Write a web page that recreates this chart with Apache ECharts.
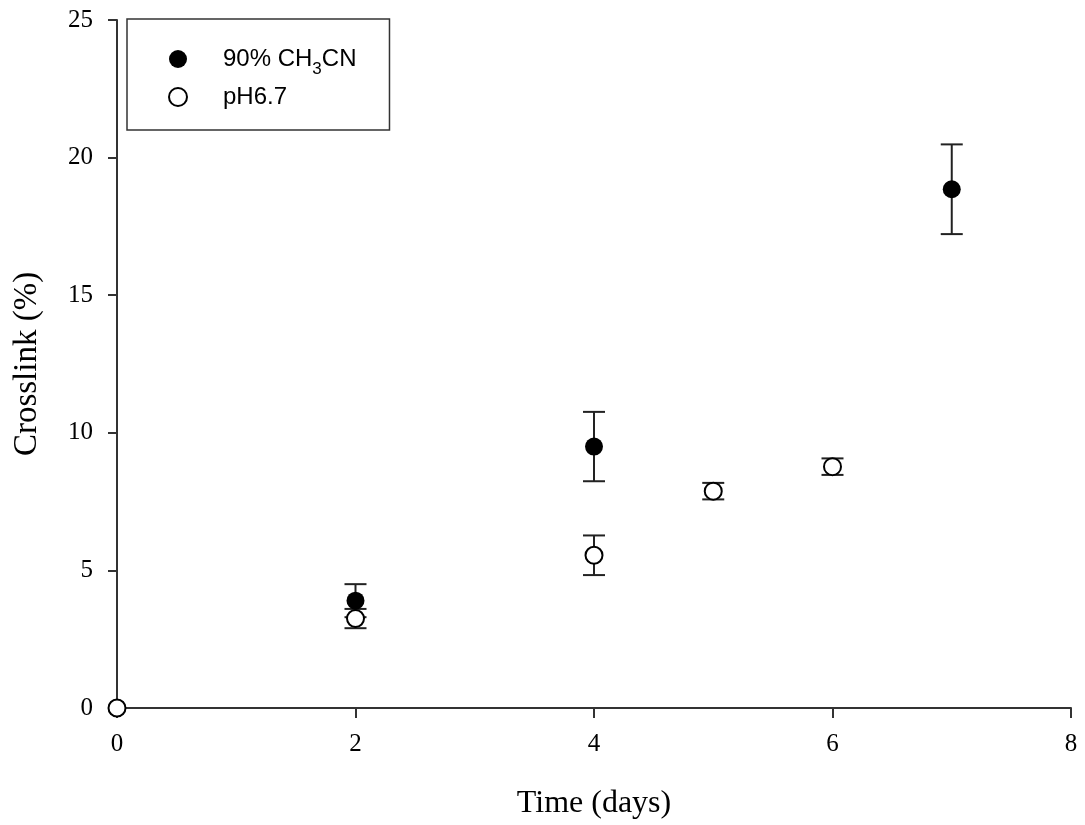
<!DOCTYPE html>
<html>
<head>
<meta charset="utf-8">
<script src="https://cdn.jsdelivr.net/npm/echarts@6/dist/echarts.min.js"></script>
<style>
html, body { margin: 0; padding: 0; background: #fff; }
#container { width: 1085px; height: 825px; }
</style>
</head>
<body>
<div id="container"></div>
<script>
var daysCh3cn = [0, 2, 4, 7];
var crosslinkCh3cn = [0, 3.9, 9.5, 18.85];
var errCh3cn = [0, 0.6, 1.26, 1.63];

var daysPh = [0, 2, 4, 5, 6];
var crosslinkPh = [0, 3.25, 5.55, 7.88, 8.77];
var errPh = [0, 0.35, 0.72, 0.3, 0.3];

var dom = document.getElementById("container");
var myChart = echarts.init(dom);

function pointData(xs, ys) {
    return xs.map(function (x, i) {
        return [x, ys[i]];
    });
}

function errData(xs, ys, es) {
    return xs.map(function (x, i) {
        return [x, ys[i] - es[i], ys[i] + es[i]];
    });
}

// vertical bar with caps, drawn under the markers
function renderErr(params, api) {
    var x = api.value(0);
    var lo = api.coord([x, api.value(1)]);
    var hi = api.coord([x, api.value(2)]);
    if (hi[1] === lo[1]) {
        return null;
    }
    var half = 11;
    var style = { stroke: '#222222', lineWidth: 2 };
    return {
        type: 'group',
        children: [
            { type: 'line', shape: { x1: lo[0], y1: lo[1], x2: hi[0], y2: hi[1] }, style: style },
            { type: 'line', shape: { x1: lo[0] - half, y1: lo[1], x2: lo[0] + half, y2: lo[1] }, style: style },
            { type: 'line', shape: { x1: hi[0] - half, y1: hi[1], x2: hi[0] + half, y2: hi[1] }, style: style }
        ]
    };
}

var serif = '"Liberation Serif", "Times New Roman", serif';
var sans = '"Liberation Sans", Arial, sans-serif';

var option = {
    animation: false,
    backgroundColor: '#ffffff',
    grid: {
        left: 117,
        right: 14,
        top: 20,
        bottom: 117
    },
    legend: {
        left: 127,
        top: 19,
        orient: 'vertical',
        data: ['90% CH3CN', 'pH6.7'],
        itemWidth: 18,
        itemHeight: 18,
        itemGap: 7,
        borderColor: '#333333',
        borderWidth: 1.5,
        padding: [28, 33, 21, 41],
        formatter: function (name) {
            if (name === '90% CH3CN') {
                return '{a|90% CH}{s|3}{b|CN}';
            }
            return '{a|' + name + '}';
        },
        textStyle: {
            fontFamily: sans,
            fontSize: 24,
            color: '#000',
            rich: {
                a: { fontFamily: sans, fontSize: 24, color: '#000', lineHeight: 38, padding: [0, 0, 0, 31] },
                b: { fontFamily: sans, fontSize: 24, color: '#000', lineHeight: 38 },
                s: { fontFamily: sans, fontSize: 17, color: '#000', lineHeight: 38, verticalAlign: 'bottom' }
            }
        }
    },
    xAxis: {
        type: 'value',
        min: 0,
        max: 8,
        interval: 2,
        name: 'Time (days)',
        nameLocation: 'middle',
        nameGap: 80,
        nameTextStyle: { fontFamily: serif, fontSize: 32, color: '#000' },
        axisLine: { show: true, lineStyle: { color: '#333333', width: 2 } },
        axisTick: { show: true, inside: false, length: 10, lineStyle: { color: '#333333', width: 2 } },
        axisLabel: { margin: 24, fontFamily: serif, fontSize: 25, color: '#000' },
        splitLine: { show: false }
    },
    yAxis: {
        type: 'value',
        min: 0,
        max: 25,
        interval: 5,
        name: 'Crosslink (%)',
        nameLocation: 'middle',
        nameGap: 73,
        nameTextStyle: { fontFamily: serif, fontSize: 33, color: '#000' },
        axisLine: { show: true, lineStyle: { color: '#333333', width: 2 } },
        axisTick: { show: true, inside: false, length: 9, lineStyle: { color: '#333333', width: 2 } },
        axisLabel: { margin: 24, fontFamily: serif, fontSize: 25, color: '#000' },
        splitLine: { show: false }
    },
    series: [
        {
            type: 'custom',
            name: 'errCh3cn',
            renderItem: renderErr,
            data: errData(daysCh3cn, crosslinkCh3cn, errCh3cn),
            z: 2,
            clip: false
        },
        {
            type: 'custom',
            name: 'errPh',
            renderItem: renderErr,
            data: errData(daysPh, crosslinkPh, errPh),
            z: 2,
            clip: false
        },
        {
            type: 'scatter',
            name: '90% CH3CN',
            data: pointData(daysCh3cn, crosslinkCh3cn),
            symbol: 'circle',
            symbolSize: 18,
            itemStyle: { color: '#000000', borderWidth: 0, opacity: 1 },
            z: 5,
            clip: false
        },
        {
            type: 'scatter',
            name: 'pH6.7',
            data: pointData(daysPh, crosslinkPh),
            symbol: 'circle',
            symbolSize: 17,
            itemStyle: { color: '#ffffff', borderColor: '#000000', borderWidth: 2, opacity: 1 },
            z: 6,
            clip: false
        }
    ]
};

myChart.setOption(option, true);
</script>
</body>
</html>
